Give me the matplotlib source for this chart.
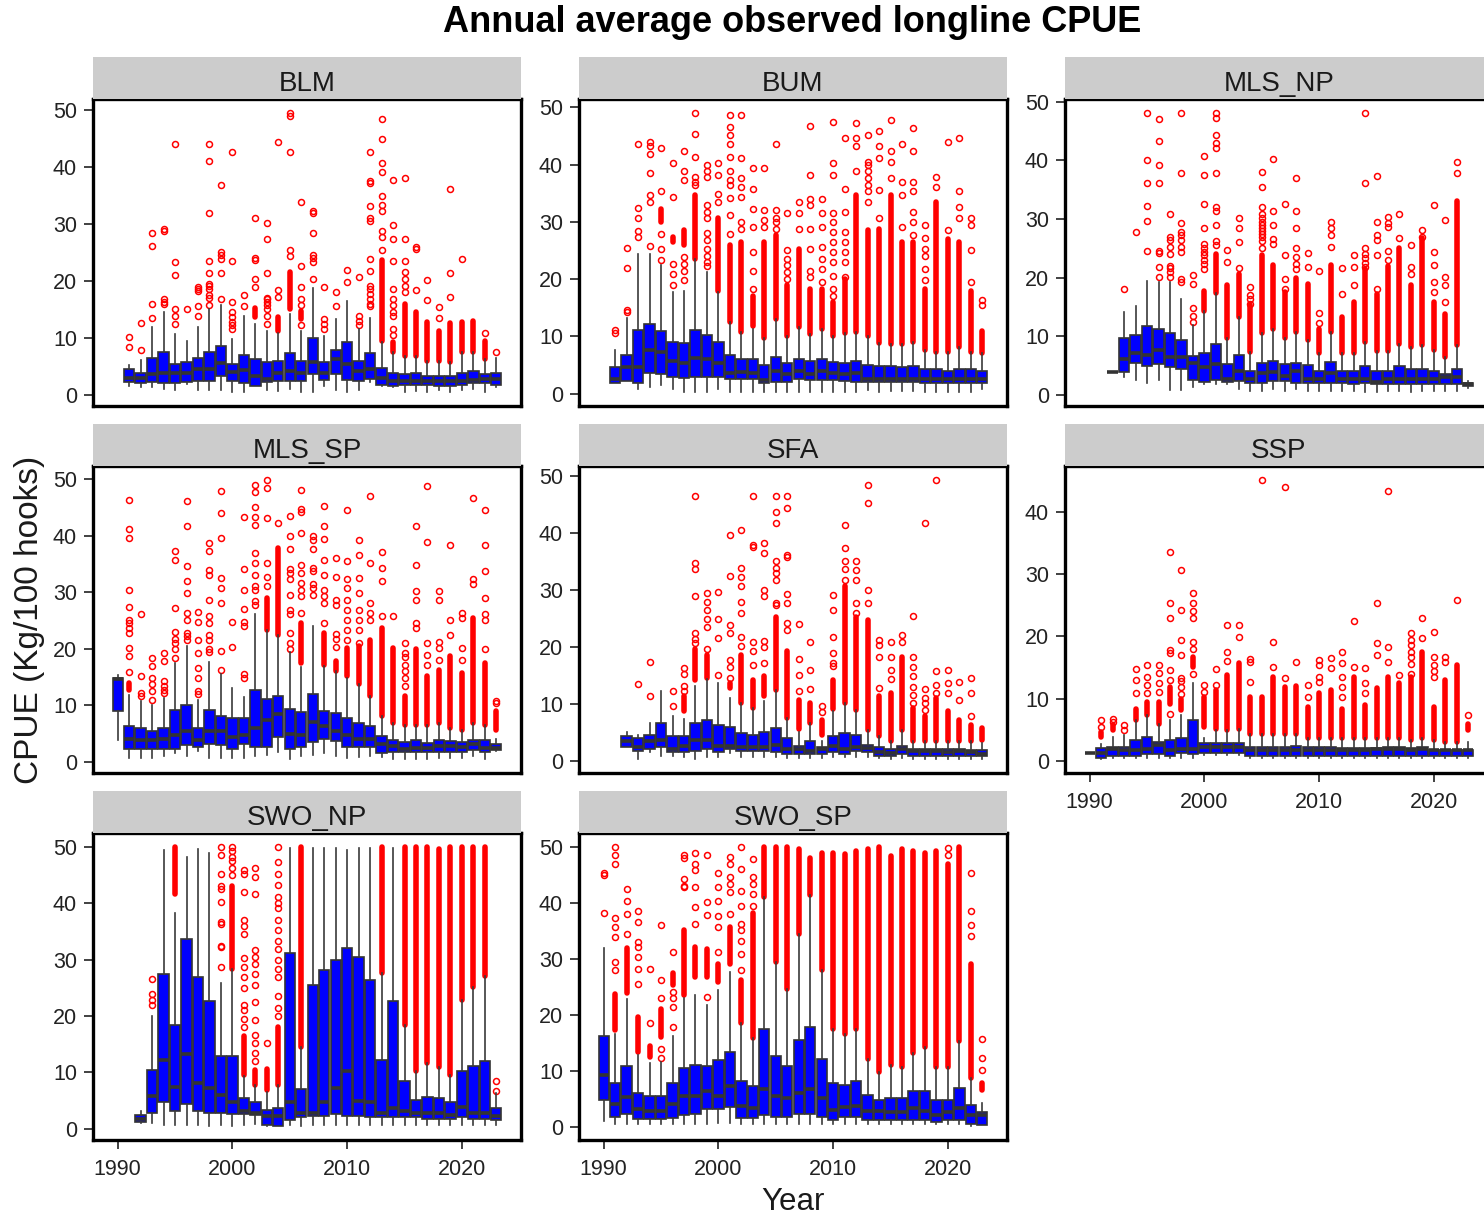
import matplotlib
matplotlib.use("Agg")
import matplotlib.pyplot as plt
from matplotlib.ticker import MultipleLocator

plt.rcParams['font.family'] = ['Liberation Sans', 'DejaVu Sans']

# ------------------------------------------------------------------
# Box statistics per year (whisker low, q1, median, q3, whisker high),
# dense outlier runs (year -> [from, to]) and sparse outliers (year -> values)
# ------------------------------------------------------------------

# BLM 1991-2023
blm_start = 1991
blm_lo = [1.5, 1.4, 1.4, 1.1, 0.8, 2.0, 0.9, 0.9, 0.9, 0.5, 0.5, 1.6, 0.9, 0.7, 1.1, 0.5, 0.5, 1.5, 0.9, 0.5, 0.9, 2.2, 1.6, 1.4, 0.5, 0.7, 0.5, 0.9, 0.5, 0.9, 1.1, 0.5, 1.3]
blm_q1 = [2.2, 2.1, 2.2, 2.1, 2.1, 2.3, 2.4, 2.4, 3.4, 2.4, 2.1, 1.6, 2.3, 2.4, 2.4, 2.4, 3.6, 2.6, 3.6, 2.6, 2.4, 2.8, 1.8, 1.6, 1.8, 1.8, 1.8, 1.5, 1.5, 1.8, 2.1, 2.1, 1.8]
blm_med = [2.9, 2.9, 3.6, 3.8, 3.8, 3.8, 4.5, 4.5, 5.6, 4.1, 4.4, 3.4, 2.8, 3.9, 4.2, 3.8, 5.7, 3.9, 6.3, 5.5, 4.2, 4.5, 2.9, 2.5, 2.5, 2.5, 2.5, 2.5, 2.5, 2.5, 2.6, 2.8, 2.8]
blm_q3 = [4.5, 3.9, 6.4, 7.6, 5.5, 5.8, 6.4, 7.6, 8.5, 5.5, 7.0, 6.3, 5.7, 6.0, 7.3, 6.0, 10.0, 5.7, 7.9, 9.2, 6.0, 7.3, 4.8, 3.9, 3.6, 3.9, 3.4, 3.4, 3.4, 3.9, 4.2, 3.6, 3.9]
blm_hi = [5.2, 6.1, 11.9, 14.6, 10.7, 9.5, 11.9, 15.1, 15.8, 9.8, 13.8, 12.5, 11.3, 10.8, 14.2, 11.3, 18.8, 10.4, 13.4, 16.4, 11.5, 13.5, 9.2, 7.5, 6.9, 6.9, 6.0, 6.0, 5.7, 7.5, 7.5, 6.3, 6.4]
blm_band = {2002: [13.7, 15.2], 2004: [11.3, 13.6], 2005: [15.1, 21.6], 2006: [13.4, 14.8],
            2013: [9.5, 23.6], 2014: [7.5, 9.3], 2015: [6.9, 16.0], 2016: [6.9, 14.5],
            2017: [6.0, 12.8], 2018: [6.0, 11.3], 2019: [5.7, 12.6], 2020: [7.5, 12.8],
            2021: [7.5, 13.0], 2022: [6.3, 9.5]}
blm_out = {1991: [10.2, 8.4], 1992: [12.6, 7.9], 1993: [15.9, 13.5, 26.2, 28.4],
           1994: [16.9, 15.9, 16.3, 29.1, 28.8], 1995: [44.1, 23.4, 21.0, 15.1, 13.9, 12.5],
           1996: [15.0], 1997: [18.9, 18.6, 18.2, 15.6, 13.8],
           1998: [44.1, 41.1, 32.0, 23.5, 21.4, 19.5, 19.2, 18.6, 17.5, 17.0, 15.7],
           1999: [36.9, 25.1, 24.6, 23.8, 21.4, 16.9],
           2000: [42.6, 23.5, 16.3, 14.5, 13.6, 12.8, 12.2, 11.6], 2001: [17.5, 15.6],
           2002: [31.0, 24.1, 23.6, 20.4, 18.9],
           2003: [30.1, 27.4, 21.4, 17.0, 16.8, 16.3, 15.7, 15.1, 13.9, 12.5],
           2004: [44.4, 18.4, 17.2], 2005: [49.5, 48.9, 42.6, 25.4, 24.4],
           2006: [33.8, 22.6, 18.9, 16.9, 15.7, 12.2],
           2007: [32.3, 32.0, 28.4, 24.5, 24.1, 23.4, 20.4], 2008: [18.9, 13.4, 12.5, 11.6],
           2009: [18.1, 15.6], 2010: [21.9, 19.8], 2011: [20.7, 13.9, 13.0, 12.2],
           2012: [42.6, 37.5, 37.2, 33.2, 31.0, 30.6, 23.8, 21.7, 19.2, 18.6, 17.8, 16.9, 16.0, 15.6],
           2013: [48.4, 44.9, 40.8, 39.1, 35.0, 33.4, 32.2, 28.8, 27.8, 25.4],
           2014: [37.8, 29.8, 27.4, 23.5, 18.6, 16.9, 15.8, 14.5, 13.9, 11.6, 10.6],
           2015: [38.1, 27.4, 23.5, 21.6, 20.4, 19.2, 18.1], 2016: [26.0, 25.7, 18.4],
           2017: [20.2, 16.6], 2018: [15.4, 13.5], 2019: [36.2, 21.4, 17.2], 2020: [23.8],
           2022: [10.9], 2023: [7.5]}

# BUM 1991-2023
bum_start = 1991
bum_lo = [1.8, 2.2, 0.8, 1.2, 1.5, 0.8, 0.3, 0.3, 0.3, 0.8, 0.3, 0.3, 0.3, 0.3, 0.3, 0.3, 0.3, 0.3, 0.3, 0.3, 0.3, 0.3, 0.6, 0.3, 0.5, 0.5, 0.5, 0.3, 0.3, 0.3, 0.3, 0.3, 0.8]
bum_q1 = [1.8, 2.2, 1.9, 3.7, 3.4, 3.0, 2.7, 3.0, 3.0, 3.0, 2.6, 2.6, 2.5, 1.9, 2.1, 2.1, 2.5, 2.4, 2.4, 2.4, 2.2, 2.1, 2.1, 2.1, 2.1, 2.1, 2.1, 1.9, 1.9, 1.9, 1.9, 1.9, 1.9]
bum_med = [2.5, 4.6, 4.6, 7.7, 7.3, 5.7, 5.3, 6.2, 6.0, 5.4, 3.7, 3.8, 3.7, 2.4, 4.0, 3.4, 4.0, 3.4, 4.0, 3.7, 3.4, 3.7, 2.6, 2.5, 2.5, 2.5, 2.6, 2.6, 2.5, 2.5, 2.5, 2.5, 2.6]
bum_q3 = [4.6, 6.7, 11.2, 12.1, 10.9, 9.1, 8.8, 11.2, 10.2, 9.1, 6.7, 6.0, 6.0, 5.1, 6.5, 5.4, 6.0, 5.7, 6.0, 5.6, 5.4, 5.7, 5.1, 4.9, 4.9, 4.6, 4.9, 4.3, 4.3, 4.0, 4.3, 4.3, 4.0]
bum_hi = [7.7, 13.2, 24.4, 24.4, 22.4, 17.7, 18.0, 23.5, 21.2, 17.7, 12.5, 10.7, 11.3, 9.7, 13.0, 10.0, 11.6, 10.4, 11.3, 10.1, 10.6, 10.8, 10.1, 8.9, 8.7, 8.7, 9.1, 7.7, 7.3, 7.3, 8.1, 7.3, 7.2]
bum_band = {1995: [30.0, 32.3], 1996: [26.5, 27.3], 1997: [26.0, 28.5], 1998: [23.5, 34.7],
            2000: [18.0, 30.6], 2001: [12.5, 26.0], 2002: [10.7, 26.5], 2003: [11.9, 17.1],
            2004: [9.7, 26.5], 2005: [13.0, 27.7], 2006: [10.0, 18.9], 2007: [11.6, 25.3],
            2008: [10.4, 18.3], 2009: [11.3, 18.3], 2010: [10.1, 16.0], 2011: [10.6, 20.1],
            2012: [10.8, 34.7], 2013: [10.1, 28.5], 2014: [8.9, 28.8], 2015: [8.7, 34.7],
            2016: [8.7, 26.5], 2017: [9.1, 26.5], 2018: [7.7, 18.3], 2019: [7.3, 33.5],
            2020: [7.3, 27.0], 2021: [8.1, 26.5], 2022: [7.3, 18.0], 2023: [7.2, 11.0]}
bum_out = {1991: [11.1, 10.6], 1992: [14.6, 14.3, 21.9, 25.5],
           1993: [27.4, 28.4, 30.7, 32.5, 43.6], 1994: [25.8, 33.4, 34.7, 38.5, 41.8, 43.2, 44.0],
           1995: [23.3, 25.3, 27.9, 35.3, 42.9], 1996: [18.9, 20.9, 22.7, 34.4, 40.2],
           1997: [19.8, 21.5, 22.7, 23.9, 37.3, 38.8, 42.4], 1998: [36.4, 37.0, 37.9, 41.4, 45.3, 49.0],
           1999: [22.3, 23.0, 24.0, 25.3, 26.8, 28.0, 30.6, 31.8, 32.9, 37.9, 38.8, 39.9],
           2000: [33.5, 34.8, 38.2, 40.2],
           2001: [27.8, 31.2, 34.1, 36.4, 37.3, 38.8, 41.4, 43.5, 45.2, 46.5, 48.6],
           2002: [28.8, 30.0, 34.4, 36.1, 37.6, 41.1, 48.7],
           2003: [18.3, 21.5, 24.7, 29.1, 32.3, 35.8, 39.4], 2004: [29.1, 30.3, 32.0, 39.4],
           2005: [28.8, 30.0, 30.6, 32.0, 43.5], 2006: [20.1, 21.2, 22.4, 23.6, 25.0, 31.5],
           2007: [28.8, 31.5, 33.5], 2008: [20.4, 21.5, 25.2, 28.8, 32.9, 34.0, 38.2, 46.8],
           2009: [19.5, 21.8, 23.6, 25.6, 29.1, 31.5, 34.0],
           2010: [17.1, 18.3, 20.6, 23.0, 24.7, 26.5, 28.2, 30.0, 31.5, 38.2, 40.2, 47.5],
           2011: [20.4, 23.0, 24.7, 26.5, 28.2, 31.8, 35.8, 44.6], 2012: [38.8, 43.2, 44.6, 47.3],
           2013: [33.5, 35.3, 36.4, 37.6, 38.8, 39.9, 40.5, 45.1], 2014: [30.6, 35.6, 41.1, 43.2, 45.8],
           2015: [37.6, 40.5, 42.3, 47.8], 2016: [29.1, 34.7, 36.9, 43.6],
           2017: [27.7, 30.0, 31.8, 35.3, 37.0, 42.4, 46.4], 2018: [19.9, 21.8, 24.1, 25.3, 27.1, 29.4],
           2019: [36.0, 37.9], 2020: [28.5, 44.0], 2021: [30.6, 32.6, 35.3, 44.6],
           2022: [19.5, 25.0, 29.4, 30.6], 2023: [15.5, 16.3]}

# MLS_NP 1992-2023
mlsnp_start = 1992
mlsnp_lo = [4.0, 3.1, 2.6, 2.0, 2.6, 0.9, 0.9, 1.4, 1.8, 1.8, 1.8, 1.0, 0.7, 0.7, 1.0, 0.7, 1.1, 0.7, 0.7, 0.7, 0.7, 0.7, 0.5, 0.5, 0.7, 0.7, 0.5, 0.7, 0.7, 0.7, 0.7, 1.2]
mlsnp_q1 = [4.0, 4.0, 5.5, 5.0, 5.3, 4.7, 4.4, 2.6, 2.2, 2.6, 2.2, 2.4, 2.0, 2.0, 2.4, 2.4, 2.0, 2.0, 2.0, 2.0, 2.0, 1.8, 2.0, 1.8, 1.8, 1.8, 1.8, 1.8, 1.8, 1.8, 1.8, 1.5]
mlsnp_med = [4.0, 6.1, 7.1, 6.9, 7.7, 6.4, 6.4, 5.5, 4.7, 5.3, 2.7, 4.1, 2.8, 3.7, 3.9, 3.3, 4.1, 2.7, 2.8, 3.7, 2.7, 2.7, 2.8, 2.2, 2.7, 2.8, 2.8, 2.8, 2.8, 3.0, 3.0, 1.8]
mlsnp_q3 = [4.0, 9.8, 10.3, 11.8, 11.3, 10.6, 9.4, 6.6, 7.1, 8.7, 5.3, 6.8, 4.1, 5.5, 5.8, 5.3, 5.5, 5.1, 4.1, 5.7, 4.1, 4.1, 5.0, 4.1, 4.1, 4.9, 4.4, 4.4, 4.1, 3.5, 4.4, 2.1]
mlsnp_hi = [4.0, 14.2, 15.1, 19.5, 19.3, 19.3, 16.3, 11.9, 14.4, 17.4, 9.8, 13.3, 7.4, 10.6, 11.3, 9.8, 10.7, 9.3, 7.1, 10.8, 7.1, 7.1, 9.1, 7.5, 7.5, 8.7, 8.1, 8.5, 7.7, 6.4, 8.5, 2.4]
mlsnp_band = {2000: [14.4, 17.8], 2001: [17.4, 24.0], 2002: [9.8, 18.7], 2003: [13.3, 20.7],
              2004: [7.4, 15.3], 2005: [10.6, 23.8], 2006: [11.3, 22.1], 2007: [9.8, 17.5],
              2008: [10.7, 20.0], 2009: [9.3, 19.0], 2010: [7.1, 11.3], 2011: [10.8, 22.1],
              2012: [7.1, 13.3], 2013: [7.1, 15.8], 2014: [9.1, 21.5], 2015: [7.5, 17.3],
              2016: [7.5, 22.0], 2017: [8.7, 25.0], 2018: [8.1, 18.7], 2019: [8.5, 26.7],
              2020: [7.7, 15.8], 2021: [6.4, 13.8], 2022: [8.5, 33.0]}
mlsnp_out = {1993: [18.1], 1994: [27.8], 1995: [24.5, 29.7, 32.2, 36.1, 40.1, 48.1],
             1996: [20.1, 21.8, 24.5, 24.2, 36.1, 39.3, 43.4, 47.0],
             1997: [20.1, 20.9, 21.6, 22.0, 24.1, 25.3, 26.5, 27.0, 30.8],
             1998: [19.3, 19.8, 24.4, 25.3, 26.4, 27.3, 27.8, 29.3, 37.8, 48.1],
             1999: [12.5, 13.5, 14.9, 19.0, 20.4],
             2000: [21.5, 22.4, 23.0, 23.8, 24.4, 25.0, 25.8, 28.4, 32.5, 37.5, 40.8],
             2001: [25.5, 26.3, 29.0, 31.3, 32.1, 37.8, 42.1, 43.0, 44.3, 47.3, 48.1],
             2002: [22.7, 24.7], 2003: [21.7, 26.1, 28.4, 30.2], 2004: [18.4, 15.6, 16.4, 17.0],
             2005: [25.0, 26.3, 27.0, 27.5, 28.0, 28.5, 29.0, 29.5, 30.2, 30.8, 32.0, 35.4, 38.1],
             2006: [25.8, 26.6, 29.0, 31.3, 40.2], 2007: [18.1, 19.8, 23.9, 32.5],
             2008: [21.5, 22.4, 23.5, 25.0, 28.4, 31.3, 37.0], 2009: [21.8, 24.3],
             2010: [12.3, 14.0, 21.1], 2011: [25.3, 27.3, 28.4, 29.5], 2012: [17.3, 21.7],
             2013: [18.7, 21.8, 23.9], 2014: [21.9, 22.5, 23.3, 24.0, 25.0, 36.1, 48.1],
             2015: [18.1, 23.8, 26.5, 27.3, 29.5, 37.3], 2016: [23.0, 24.5, 28.7, 29.3, 30.4],
             2017: [26.7, 30.8], 2018: [20.7, 21.8, 25.5], 2019: [27.0, 28.1],
             2020: [17.5, 19.3, 22.1, 24.4, 32.4], 2021: [15.8, 18.7, 20.1, 29.8], 2022: [37.8, 39.8]}

# MLS_SP 1990-2023
mlssp_start = 1990
mlssp_lo = [3.8, 0.7, 0.7, 0.7, 1.0, 1.6, 1.1, 1.9, 0.7, 0.7, 0.7, 0.7, 1.0, 1.3, 1.7, 0.5, 1.0, 1.3, 1.6, 1.0, 0.7, 0.9, 1.0, 0.9, 0.5, 0.5, 0.5, 0.5, 0.7, 0.7, 0.7, 1.0, 0.5, 2.0]
mlssp_q1 = [9.0, 2.3, 2.3, 2.3, 2.3, 2.3, 2.9, 2.7, 3.2, 2.9, 2.3, 3.2, 2.7, 2.7, 4.4, 2.3, 2.7, 3.5, 4.0, 3.7, 2.7, 2.7, 2.7, 1.6, 1.8, 1.8, 1.8, 1.8, 1.8, 1.8, 1.8, 2.1, 1.8, 2.1]
mlssp_med = [14.6, 4.1, 3.8, 3.8, 4.1, 4.8, 5.4, 3.8, 5.4, 5.4, 4.4, 4.8, 6.0, 7.4, 8.5, 5.0, 4.8, 7.0, 6.3, 5.4, 4.7, 4.1, 4.1, 3.1, 2.8, 2.3, 2.5, 2.5, 2.8, 2.8, 2.7, 3.1, 2.5, 2.5]
mlssp_q3 = [14.9, 6.3, 6.0, 5.4, 6.0, 9.1, 10.0, 6.0, 9.1, 8.1, 7.8, 7.8, 12.7, 11.1, 11.6, 9.4, 8.8, 12.1, 9.0, 8.7, 7.8, 6.9, 6.3, 4.5, 3.9, 3.5, 3.9, 3.4, 3.9, 3.7, 3.5, 3.9, 3.9, 3.1]
mlssp_hi = [15.4, 11.9, 10.7, 10.1, 11.3, 17.5, 20.5, 11.0, 17.6, 15.6, 13.1, 11.5, 26.2, 23.4, 22.5, 19.4, 16.8, 24.0, 16.9, 16.0, 14.9, 13.7, 11.6, 8.2, 6.9, 6.6, 6.6, 6.6, 6.9, 6.0, 5.7, 6.9, 6.6, 4.0]
mlssp_band = {1991: [12.8, 14.0], 2003: [23.4, 29.0], 2004: [22.5, 37.9], 2006: [17.5, 24.6],
              2008: [17.2, 22.8], 2009: [16.0, 17.8], 2010: [15.2, 20.2], 2011: [13.7, 20.5],
              2012: [11.6, 21.6], 2013: [8.2, 23.7], 2014: [6.9, 20.2], 2015: [6.6, 11.6],
              2016: [6.6, 19.9], 2017: [6.6, 15.2], 2018: [6.9, 16.3], 2019: [6.0, 18.7],
              2020: [5.7, 15.7], 2021: [6.9, 25.5], 2022: [6.6, 17.5], 2023: [5.7, 9.0]}
mlssp_out = {1991: [15.9, 18.7, 20.2, 22.8, 23.7, 24.6, 25.2, 27.4, 30.5, 39.6, 41.2, 46.3],
             1992: [11.6, 12.2, 15.2, 26.2], 1993: [11.0, 12.5, 13.7, 14.9, 16.9, 18.3],
             1994: [12.2, 12.8, 13.4, 14.3, 17.8, 19.2],
             1995: [18.4, 19.9, 21.0, 21.8, 23.0, 27.2, 35.8, 37.3],
             1996: [21.6, 22.2, 22.8, 25.2, 26.4, 29.9, 32.0, 34.7, 41.7, 46.2],
             1997: [12.0, 12.5, 14.9, 16.6, 19.3, 21.6, 24.7, 26.6],
             1998: [19.4, 19.9, 21.6, 22.5, 24.6, 25.9, 28.7, 33.1, 34.0, 37.3, 38.7],
             1999: [16.2, 19.6, 28.1, 30.8, 32.5, 39.6, 44.0, 47.9], 2000: [20.3, 24.7],
             2001: [14.9, 15.6, 24.0, 24.7, 27.1, 30.5, 34.1, 43.4],
             2002: [27.8, 28.4, 30.5, 31.2, 33.0, 35.2, 37.0, 41.9, 43.4, 45.2, 47.7, 49.0],
             2003: [31.2, 32.8, 35.2, 43.2, 48.5, 49.9], 2004: [42.3],
             2005: [19.9, 21.0, 22.8, 26.1, 26.9, 29.6, 32.3, 33.4, 34.1, 37.6, 39.9, 43.5],
             2006: [26.3, 29.3, 30.5, 31.7, 33.4, 34.9, 40.5, 44.3, 44.7, 48.2],
             2007: [29.6, 30.8, 31.4, 33.7, 34.3, 37.6, 39.3, 39.9],
             2008: [24.6, 28.1, 29.3, 30.5, 33.1, 35.8, 39.5, 41.7, 45.3],
             2009: [20.3, 21.7, 22.6, 27.8, 28.7, 32.8, 36.0],
             2010: [21.6, 23.4, 25.2, 26.9, 28.7, 30.8, 32.3, 35.5, 44.5],
             2011: [21.1, 23.4, 25.2, 26.9, 29.9, 32.5, 36.7, 39.3],
             2012: [25.2, 26.4, 28.1, 35.2, 47.0], 2013: [25.8, 32.0, 34.3, 37.1], 2014: [25.8],
             2015: [13.4, 14.9, 16.1, 17.2, 18.5, 19.3, 21.0],
             2016: [41.7, 34.9, 30.2, 28.7, 24.6, 23.7], 2017: [48.8, 39.0, 21.0, 19.0, 17.2],
             2018: [30.2, 28.7, 21.3, 20.2, 18.1], 2019: [38.4, 25.2, 22.5],
             2020: [26.4, 25.5, 20.2, 18.1], 2021: [46.7, 32.3, 31.4],
             2022: [44.6, 38.4, 33.7, 29.0, 26.1, 25.2, 19.9], 2023: [10.5, 10.7]}

# SFA 1992-2023
sfa_start = 1992
sfa_lo = [2.4, 0.3, 1.6, 0.8, 0.9, 0.6, 0.3, 0.6, 0.6, 1.3, 0.6, 0.6, 0.6, 0.6, 0.5, 0.5, 0.5, 0.5, 0.6, 0.6, 0.6, 0.6, 0.5, 0.3, 0.5, 0.3, 0.3, 0.3, 0.3, 0.3, 0.3, 0.3]
sfa_q1 = [2.4, 1.8, 2.0, 2.4, 1.5, 1.5, 1.8, 2.0, 1.5, 2.0, 1.8, 1.8, 1.8, 1.5, 1.2, 1.2, 1.2, 1.2, 1.5, 1.2, 1.8, 1.5, 0.9, 0.9, 1.2, 0.9, 0.9, 0.9, 0.9, 0.9, 0.9, 0.9]
sfa_med = [3.4, 2.5, 3.4, 3.7, 2.0, 2.6, 3.7, 3.7, 2.6, 2.6, 2.5, 2.5, 2.5, 2.8, 2.0, 2.0, 1.8, 2.0, 2.6, 2.0, 2.4, 2.2, 1.6, 1.3, 2.0, 1.8, 1.8, 1.8, 1.6, 1.8, 1.6, 1.2]
sfa_q3 = [4.3, 4.0, 4.6, 6.7, 4.3, 4.3, 6.7, 7.1, 6.3, 6.0, 4.9, 4.6, 5.1, 5.7, 4.0, 2.6, 3.4, 2.4, 4.3, 4.9, 4.6, 2.8, 2.4, 2.0, 2.6, 2.0, 2.0, 2.0, 2.0, 2.0, 1.9, 1.9]
sfa_hi = [5.0, 4.6, 6.7, 12.2, 7.9, 7.3, 13.2, 14.3, 13.6, 11.0, 10.1, 9.2, 10.5, 12.5, 7.5, 5.1, 6.6, 3.4, 8.7, 10.2, 8.9, 5.4, 4.3, 3.4, 5.4, 3.4, 3.4, 3.4, 3.4, 3.4, 3.4, 3.1]
sfa_band = {1997: [8.7, 11.3], 1998: [14.2, 19.7], 1999: [14.5, 18.6], 2001: [12.7, 13.6],
            2002: [10.1, 18.6], 2003: [9.2, 14.2], 2004: [11.3, 14.8], 2005: [12.5, 25.3],
            2006: [7.5, 19.2], 2007: [5.5, 10.7], 2008: [6.6, 10.1], 2009: [4.6, 7.1],
            2010: [9.0, 14.2], 2011: [10.2, 30.6], 2012: [8.9, 25.3], 2013: [5.4, 24.7],
            2014: [4.3, 11.3], 2015: [3.4, 11.9], 2016: [5.4, 18.3], 2017: [3.4, 9.2],
            2018: [3.4, 7.8], 2019: [3.4, 11.0], 2020: [3.4, 8.7], 2021: [3.4, 7.2],
            2022: [3.4, 6.3], 2023: [3.7, 5.7]}
sfa_out = {1993: [13.5], 1994: [17.3, 11.4], 1996: [9.6, 12.2], 1997: [12.2, 13.2, 15.3, 16.3],
           1998: [20.6, 21.3, 22.4, 29.0, 33.6, 34.8, 46.5], 1999: [19.6, 23.4, 24.9, 26.5, 27.9, 29.4],
           2000: [15.0, 21.5, 24.9, 29.7], 2001: [14.5, 16.5, 17.7, 22.4, 23.9, 32.5, 39.7],
           2002: [20.1, 21.8, 25.9, 27.9, 30.6, 32.3, 33.8, 40.5],
           2003: [16.8, 19.2, 20.9, 37.6, 37.9, 46.5], 2004: [17.1, 19.9, 21.1, 28.9, 30.0, 36.4, 38.2],
           2005: [27.3, 27.7, 31.8, 33.0, 33.8, 35.0, 41.7, 43.7, 46.5],
           2006: [23.0, 24.2, 27.7, 29.3, 36.1, 35.8, 44.4, 46.5], 2007: [12.2, 15.1, 17.8, 24.0],
           2008: [12.6, 16.0, 20.9], 2009: [8.5, 9.6], 2010: [16.6, 17.1, 18.9, 21.8, 26.5, 29.1],
           2011: [31.8, 33.6, 35.1, 37.3, 41.4], 2012: [26.0, 27.7, 31.8, 33.5, 35.0],
           2013: [27.7, 30.0, 45.3, 48.4], 2014: [12.7, 18.3, 20.4, 21.2], 2015: [14.3, 16.0, 18.3, 20.9],
           2016: [20.9, 22.1], 2017: [25.4, 18.3, 16.5, 14.8, 13.0, 11.6, 10.1],
           2018: [41.7, 12.6, 11.0, 10.1, 8.9], 2019: [49.3, 15.8, 13.3, 11.9],
           2020: [16.0, 13.6, 11.9], 2021: [10.7, 13.9], 2022: [7.8, 11.9, 14.5]}

# SSP 1990-2023
ssp_start = 1990
ssp_lo = [1.3, 0.3, 0.4, 0.4, 0.4, 0.4, 0.4, 0.4, 0.4, 0.4, 0.9, 0.9, 0.9, 0.9, 0.4, 0.4, 0.4, 0.4, 0.4, 0.4, 0.4, 0.4, 0.4, 0.4, 0.4, 0.4, 0.4, 0.4, 0.4, 0.4, 0.4, 0.4, 0.4, 0.4]
ssp_q1 = [1.3, 0.4, 0.8, 0.8, 0.8, 1.1, 1.1, 0.8, 1.3, 1.1, 1.3, 1.3, 1.3, 1.3, 0.8, 0.8, 0.8, 0.8, 0.8, 0.8, 0.8, 0.8, 0.8, 0.8, 0.8, 0.8, 0.8, 0.8, 0.8, 0.8, 0.8, 0.8, 0.8, 0.8]
ssp_med = [1.3, 1.2, 1.9, 1.7, 1.8, 1.9, 2.6, 1.8, 1.9, 1.9, 2.3, 2.3, 2.2, 2.2, 1.8, 1.8, 1.8, 1.7, 1.7, 1.8, 1.8, 1.8, 1.8, 1.8, 1.8, 1.9, 1.9, 1.9, 1.8, 1.9, 1.7, 1.7, 1.7, 1.7]
ssp_q3 = [1.3, 2.0, 2.3, 2.3, 3.4, 3.9, 3.1, 3.4, 3.6, 6.5, 2.8, 2.8, 2.8, 2.8, 2.2, 2.2, 2.2, 2.2, 2.4, 2.2, 2.2, 2.2, 2.0, 2.0, 2.0, 2.0, 2.2, 2.2, 2.0, 2.2, 1.8, 1.8, 1.8, 1.8]
ssp_hi = [1.3, 2.7, 3.9, 4.2, 6.6, 7.4, 6.0, 6.6, 7.3, 12.5, 3.6, 5.0, 5.0, 5.2, 4.4, 4.4, 4.4, 4.4, 4.4, 3.6, 3.6, 3.6, 3.6, 3.6, 3.6, 3.6, 3.6, 3.6, 3.4, 3.6, 3.4, 3.1, 3.1, 3.1]
ssp_band = {1991: [3.9, 4.7], 1992: [5.0, 5.8], 1994: [6.6, 8.4], 1995: [7.4, 9.5], 1996: [6.0, 9.5],
            1997: [9.2, 11.9], 1998: [8.2, 10.0], 1999: [15.1, 16.7], 2000: [5.5, 10.3],
            2001: [5.2, 11.4], 2002: [5.0, 13.8], 2003: [5.2, 15.7], 2004: [4.4, 10.3],
            2005: [4.4, 10.3], 2006: [4.4, 13.5], 2007: [4.4, 11.9], 2008: [4.4, 12.0],
            2009: [3.6, 8.7], 2010: [3.6, 10.9], 2011: [3.6, 11.4], 2012: [3.6, 8.4],
            2013: [3.6, 13.5], 2014: [3.6, 9.0], 2015: [3.6, 11.7], 2016: [3.6, 13.5],
            2017: [3.6, 12.5], 2018: [3.4, 13.5], 2019: [3.6, 17.5], 2020: [3.4, 8.7],
            2021: [3.1, 13.0], 2022: [3.1, 15.4], 2023: [5.0, 6.0]}
ssp_out = {1991: [5.5, 6.5], 1992: [6.3, 6.8], 1993: [5.0, 5.8], 1994: [10.9, 13.0, 14.8],
           1995: [10.9, 12.2, 13.5, 15.4], 1996: [11.1, 12.5, 14.1, 15.4],
           1997: [7.6, 13.0, 14.6, 17.3, 17.8, 22.9, 25.3, 33.6],
           1998: [10.7, 11.8, 12.8, 13.3, 17.0, 19.4, 24.2, 30.6],
           1999: [14.0, 18.0, 19.1, 22.9, 24.0, 25.3, 26.9], 2000: [11.1, 12.2], 2001: [12.2, 14.8],
           2002: [16.1, 17.5, 21.8], 2003: [19.9, 21.8], 2004: [12.7, 15.9, 16.4], 2005: [45.1],
           2006: [15.0, 19.1], 2007: [13.3, 44.0], 2008: [15.9], 2009: [10.3, 12.2],
           2010: [12.7, 13.5, 15.4, 16.2], 2011: [14.9, 16.5], 2012: [10.3, 11.8, 13.5, 15.7, 17.5],
           2013: [15.1, 22.5], 2014: [10.9, 12.5, 14.9], 2015: [17.0, 18.9, 25.3],
           2016: [15.9, 18.3, 43.4], 2017: [13.8], 2018: [14.0, 15.6, 16.7, 17.5, 18.6, 19.4, 20.5],
           2019: [19.7, 22.9], 2020: [13.5, 14.4, 15.4, 16.7, 20.7], 2021: [15.9, 16.7],
           2022: [25.8], 2023: [7.3]}

# SWO_NP 1992-2023
swonp_start = 1992
swonp_lo = [1.0, 1.0, 0.7, 0.7, 0.7, 0.7, 0.5, 0.7, 0.5, 0.7, 0.9, 0.5, 0.5, 0.7, 0.5, 0.7, 0.7, 0.7, 0.7, 0.7, 0.7, 0.7, 0.7, 0.7, 0.7, 0.7, 0.7, 0.7, 0.7, 0.7, 0.7, 0.7]
swonp_q1 = [1.3, 2.9, 4.7, 3.2, 4.4, 3.2, 2.9, 2.9, 2.7, 2.7, 2.5, 0.7, 0.5, 1.5, 2.1, 2.3, 2.3, 2.7, 2.3, 2.3, 2.1, 2.1, 2.1, 2.1, 2.1, 1.7, 1.7, 1.7, 2.1, 1.7, 1.7, 1.5]
swonp_med = [1.8, 5.8, 12.3, 7.5, 13.3, 8.1, 7.2, 6.0, 4.8, 3.1, 2.9, 2.3, 2.3, 4.7, 2.9, 2.8, 4.7, 7.2, 10.3, 5.0, 4.7, 2.9, 3.7, 3.1, 2.9, 2.9, 2.9, 2.5, 3.8, 2.9, 2.9, 2.2]
swonp_q3 = [2.5, 10.4, 27.5, 18.4, 33.7, 26.9, 22.7, 13.0, 13.0, 5.4, 4.8, 3.4, 3.7, 31.2, 7.0, 25.5, 28.1, 30.0, 32.0, 30.4, 26.4, 12.3, 22.7, 8.5, 5.1, 5.7, 5.4, 4.8, 10.3, 11.1, 12.1, 3.7]
swonp_hi = [3.1, 20.0, 49.4, 38.3, 48.3, 49.6, 48.9, 25.8, 28.4, 9.3, 7.8, 6.6, 7.8, 49.8, 14.6, 49.8, 49.8, 49.8, 49.5, 49.8, 49.8, 27.6, 49.8, 18.4, 10.3, 11.6, 11.0, 9.6, 22.8, 25.2, 27.1, 6.3]
swonp_band = {1995: [41.7, 50.0], 2000: [28.4, 43.0], 2001: [9.5, 16.5], 2002: [7.8, 10.5],
              2003: [6.9, 10.7], 2004: [7.8, 18.0], 2006: [14.6, 50.0], 2013: [27.6, 50.0],
              2015: [18.4, 50.0], 2016: [10.3, 50.0], 2017: [11.6, 50.0], 2018: [11.0, 49.6],
              2019: [9.6, 50.0], 2020: [22.8, 50.0], 2021: [25.2, 50.0], 2022: [27.1, 50.0]}
swonp_out = {1993: [22.0, 22.8, 24.0, 26.6],
             1999: [28.7, 32.3, 32.5, 36.3, 36.7, 40.2, 42.5, 43.0, 45.2, 48.5, 50.0],
             2000: [45.0, 46.3, 47.5, 48.3, 49.2, 50.0],
             2001: [18.0, 19.5, 21.0, 22.0, 25.0, 27.0, 28.7, 30.3, 34.6, 36.0, 37.0, 42.0, 45.2, 46.0],
             2002: [12.0, 13.5, 15.2, 16.6, 19.3, 22.5, 25.6, 27.4, 29.3, 30.5, 31.7, 41.7, 44.6, 46.3],
             2003: [15.3],
             2004: [50.0, 47.3, 45.2, 43.3, 41.1, 40.0, 39.2, 37.1, 35.3, 33.4, 31.9, 30.0, 28.4, 26.9, 23.6, 21.5, 20.0],
             2023: [8.5, 6.8]}

# SWO_SP 1990-2023
swosp_start = 1990
swosp_lo = [1.1, 0.5, 0.5, 0.5, 0.5, 0.5, 0.5, 0.5, 0.5, 0.5, 0.8, 0.8, 0.5, 0.5, 0.5, 0.5, 0.5, 0.5, 0.5, 0.5, 0.5, 0.5, 0.5, 0.5, 0.5, 0.5, 0.5, 0.5, 0.5, 0.5, 0.5, 0.5, 0.2, 0.3]
swosp_q1 = [4.8, 1.8, 2.4, 1.5, 1.5, 1.5, 1.7, 2.1, 2.4, 3.3, 3.3, 3.6, 1.7, 1.7, 2.1, 1.8, 1.8, 2.4, 2.4, 1.8, 1.2, 1.8, 1.8, 1.2, 1.2, 1.2, 1.2, 1.2, 1.2, 0.9, 1.2, 1.2, 0.5, 0.3]
swosp_med = [9.3, 4.2, 5.4, 3.3, 2.8, 2.8, 4.2, 5.6, 5.6, 6.4, 5.6, 7.3, 3.8, 3.4, 6.8, 5.5, 5.2, 6.1, 6.8, 5.2, 3.0, 3.6, 3.8, 2.8, 2.8, 2.7, 2.7, 3.4, 2.8, 2.1, 2.7, 3.4, 2.1, 2.1]
swosp_q3 = [16.2, 7.9, 10.9, 6.1, 5.6, 5.6, 7.9, 10.5, 11.1, 10.9, 11.9, 13.5, 8.3, 7.3, 17.6, 12.7, 10.9, 15.6, 17.9, 12.1, 7.9, 7.6, 8.2, 5.8, 4.9, 5.2, 5.2, 6.4, 6.4, 4.9, 4.9, 7.0, 4.0, 2.7]
swosp_hi = [32.0, 16.7, 22.9, 12.9, 11.4, 11.7, 16.2, 23.0, 23.6, 21.8, 24.4, 27.7, 18.5, 15.9, 41.0, 29.5, 24.6, 34.5, 41.4, 28.1, 17.6, 16.6, 17.6, 12.1, 9.9, 11.1, 10.7, 13.3, 14.3, 10.7, 10.7, 15.4, 8.8, 4.3]
swosp_band = {1991: [17.3, 23.8], 1992: [24.0, 32.0], 1993: [13.5, 19.7], 1994: [12.6, 14.4],
              1995: [16.0, 21.0], 1996: [25.3, 27.5], 1997: [23.5, 35.1], 1998: [26.8, 32.1],
              1999: [26.8, 31.8], 2000: [25.9, 29.2], 2001: [29.2, 35.7], 2002: [18.5, 26.2],
              2003: [15.9, 38.3], 2004: [41.0, 50.0], 2005: [29.5, 50.0], 2006: [24.6, 50.0],
              2007: [34.5, 49.6], 2008: [41.4, 48.1], 2009: [28.1, 49.0], 2010: [17.6, 49.0],
              2011: [16.6, 48.7], 2012: [17.6, 49.3], 2013: [12.1, 49.6], 2014: [9.9, 50.0],
              2015: [11.1, 48.4], 2016: [10.7, 49.6], 2017: [13.3, 49.3], 2018: [14.3, 49.0],
              2019: [10.7, 49.3], 2020: [10.7, 46.9], 2021: [15.4, 50.0], 2022: [8.8, 29.2],
              2023: [6.7, 7.9]}
swosp_out = {1990: [38.3, 45.0, 45.4], 1991: [28.0, 29.5, 33.9, 35.7, 37.3, 46.9, 48.6, 50.0],
             1992: [34.4, 38.0, 40.4, 42.5], 1993: [25.6, 28.3, 30.4, 32.1, 33.0, 36.6, 38.6],
             1994: [18.5, 28.3], 1995: [12.4, 14.0, 23.0, 26.2, 36.1],
             1996: [17.8, 21.5, 23.0, 24.1, 31.2], 1997: [42.8, 48.5, 48.1, 44.2, 43.0],
             1998: [36.3, 39.2, 42.8, 45.9, 46.9, 49.0], 1999: [23.3, 37.8, 40.1, 48.6],
             2000: [31.2, 35.7, 37.6, 40.3, 42.8, 45.3], 2001: [38.0, 41.9, 43.4, 44.6, 46.9, 48.2],
             2002: [28.0, 30.9, 33.3, 35.1, 36.3, 39.5, 42.2, 46.0, 50.0],
             2003: [39.5, 41.6, 43.4, 44.6, 47.8], 2020: [48.6, 49.9],
             2022: [45.4, 38.6, 36.0, 34.2], 2023: [10.2, 12.3, 15.7]}

PANELS = [
    ("BLM", blm_start, blm_lo, blm_q1, blm_med, blm_q3, blm_hi, blm_band, blm_out),
    ("BUM", bum_start, bum_lo, bum_q1, bum_med, bum_q3, bum_hi, bum_band, bum_out),
    ("MLS_NP", mlsnp_start, mlsnp_lo, mlsnp_q1, mlsnp_med, mlsnp_q3, mlsnp_hi, mlsnp_band, mlsnp_out),
    ("MLS_SP", mlssp_start, mlssp_lo, mlssp_q1, mlssp_med, mlssp_q3, mlssp_hi, mlssp_band, mlssp_out),
    ("SFA", sfa_start, sfa_lo, sfa_q1, sfa_med, sfa_q3, sfa_hi, sfa_band, sfa_out),
    ("SSP", ssp_start, ssp_lo, ssp_q1, ssp_med, ssp_q3, ssp_hi, ssp_band, ssp_out),
    ("SWO_NP", swonp_start, swonp_lo, swonp_q1, swonp_med, swonp_q3, swonp_hi, swonp_band, swonp_out),
    ("SWO_SP", swosp_start, swosp_lo, swosp_q1, swosp_med, swosp_q3, swosp_hi, swosp_band, swosp_out),
]
x_ticks = [1990, 2000, 2010, 2020]

# ------------------------------------------------------------------
# layout (pixels of a 1484 x 1219 canvas)
W, H = 1484, 1219
COL_X = [93, 579, 1065]
ROW_Y = [99, 466, 833]
PW, PH, SH = 428, 307, 42
BOTTOM_ONES = {"SSP", "SWO_NP", "SWO_SP"}


def px_box(x0, y0, w, h):
    return [x0 / W, 1 - (y0 + h) / H, w / W, h / H]


fig = plt.figure(figsize=(W / 100, H / 100), dpi=100)
fig.patch.set_facecolor("white")

for i, (name, y0, lo, q1, med, q3, hi, band, out) in enumerate(PANELS):
    r, c = divmod(i, 3)
    ax = fig.add_axes(px_box(COL_X[c], ROW_Y[r], PW, PH))
    strip = fig.add_axes(px_box(COL_X[c], ROW_Y[r] - SH, PW, SH))

    years = list(range(y0, y0 + len(q1)))

    # outliers first (under the boxes), dense runs as thick red strokes
    for yr, (a, b) in band.items():
        ax.vlines(yr, a, b, color="red", lw=4.0, capstyle="round", zorder=1)
    ox = [yr for yr, vals in out.items() for v in vals]
    oy = [v for yr, vals in out.items() for v in vals]
    ax.plot(ox, oy, "o", ls="none", ms=4.3, mfc="none", mec="red", mew=1.1, zorder=2)

    stats = [dict(whislo=l, q1=a, med=m, q3=b, whishi=h, fliers=[])
             for l, a, m, b, h in zip(lo, q1, med, q3, hi)]
    ax.bxp(stats, positions=years, widths=0.9, patch_artist=True,
           showfliers=False, showcaps=False, manage_ticks=False,
           boxprops=dict(facecolor="#0000FF", edgecolor="#333333", lw=1.2, zorder=3),
           whiskerprops=dict(color="#3a3a3a", lw=1.2, zorder=3),
           medianprops=dict(color="#333333", lw=2.6, solid_capstyle="butt", zorder=4))

    # y range like ggplot: data range plus 5 %
    all_vals = lo + hi + [v for ab in band.values() for v in ab] + oy
    ymin, ymax = min(all_vals), max(all_vals)
    pad = 0.05 * (ymax - ymin)
    ax.set_ylim(ymin - pad, ymax + pad)
    ax.set_xlim(1987.85, 2025.15)
    ax.yaxis.set_major_locator(MultipleLocator(10))
    ax.set_xticks(x_ticks)

    for sp in ax.spines.values():
        sp.set_linewidth(2.4)
        sp.set_color("black")
    ax.tick_params(axis="both", length=6.5, width=1.3, color="#333333",
                   labelsize=15.5, labelcolor="#222222")
    ax.tick_params(axis="y", pad=5)
    ax.tick_params(axis="x", pad=7)
    if name not in BOTTOM_ONES:
        ax.tick_params(axis="x", bottom=False, labelbottom=False)

    strip.set_facecolor("#CCCCCC")
    strip.set_xticks([])
    strip.set_yticks([])
    for sp in strip.spines.values():
        sp.set_visible(False)
    strip.text(0.5, 0.42, name, ha="center", va="center_baseline", fontsize=20,
               color="#1A1A1A", transform=strip.transAxes)

fig.text(792 / W, 1 - 23 / H, "Annual average observed longline CPUE",
         ha="center", va="center", fontsize=26, fontweight="bold", color="black")
fig.text(793 / W, 1 - 1202 / H, "Year", ha="center", va="center", fontsize=22.5,
         color="#1A1A1A")
fig.text(30 / W, 1 - 620 / H, "CPUE (Kg/100 hooks)", ha="center", va="center",
         rotation=90, fontsize=24, color="#1A1A1A")

fig.savefig("out.png", dpi=100)
